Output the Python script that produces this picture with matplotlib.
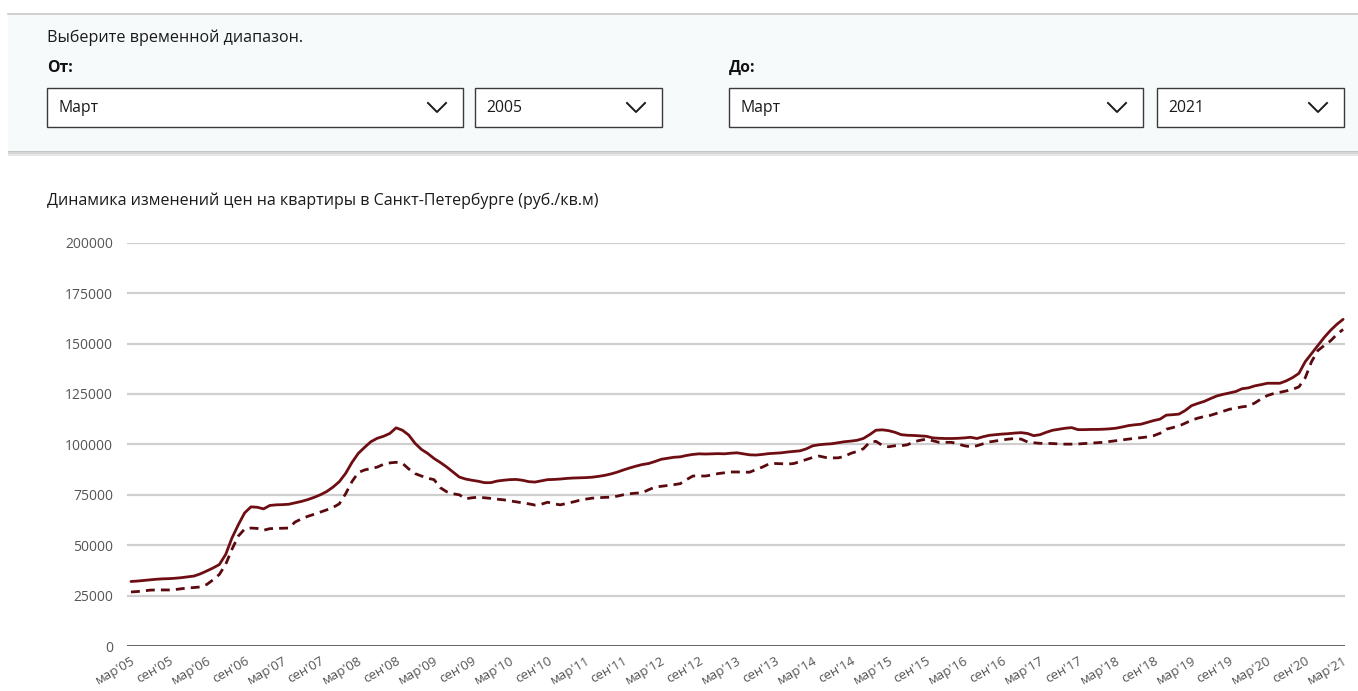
import numpy as np
import matplotlib
matplotlib.use('Agg')
from matplotlib import pyplot as plt
from matplotlib.patches import Rectangle

plt.rcParams['font.family'] = ['Open Sans', 'Noto Sans', 'DejaVu Sans']

# monthly prices, руб./кв.м, from March 2005 to March 2021
avg_price = [
    # 2005 (мар-дек)
    32000, 32200, 32500, 32800, 33100, 33300, 33400, 33600, 33900, 34300,
    # 2006
    34700, 35800, 37200, 38700, 40400, 45400, 53600, 60100, 66000, 69000, 68800, 68000,
    # 2007
    69700, 70000, 70100, 70300, 71000, 71700, 72600, 73700, 75000, 76600, 78800, 81500,
    # 2008
    85600, 91000, 95500, 98500, 101300, 103000, 104000, 105400, 108200, 107000, 104600, 100500,
    # 2009
    97500, 95500, 93000, 91000, 88800, 86300, 83800, 82800, 82200, 81700, 81000, 81000,
    # 2010
    81800, 82200, 82500, 82600, 82200, 81500, 81300, 81900, 82500, 82600, 82800, 83100,
    # 2011
    83300, 83400, 83500, 83700, 84100, 84600, 85300, 86200, 87300, 88300, 89200, 90000,
    # 2012
    90500, 91500, 92600, 93100, 93600, 93800, 94500, 95000, 95300, 95200, 95300, 95400,
    # 2013
    95300, 95600, 95800, 95300, 94800, 94700, 95000, 95400, 95600, 95800, 96200, 96500,
    # 2014
    96800, 97800, 99300, 99800, 100100, 100300, 100800, 101300, 101600, 102000, 102900, 104800,
    # 2015
    107000, 107200, 106800, 106000, 104800, 104500, 104400, 104200, 104000, 103200, 103000, 102900,
    # 2016
    102900, 103000, 103200, 103500, 102900, 103800, 104500, 104800, 105100, 105300, 105600, 105800,
    # 2017
    105400, 104300, 104800, 106000, 107000, 107500, 108000, 108300, 107300, 107300, 107400, 107400,
    # 2018
    107500, 107700, 108000, 108600, 109300, 109700, 110000, 110900, 111800, 112500, 114500, 114700,
    # 2019
    115000, 116800, 119200, 120300, 121300, 122700, 124000, 124800, 125500, 126200, 127600, 128000,
    # 2020
    129000, 129600, 130300, 130300, 130300, 131500, 133100, 135200, 141000, 145000, 149000, 153000,
    # 2021 (янв-мар)
    156500, 159500, 162000,
]

min_price = [
    # 2005 (мар-дек)
    26800, 27000, 27300, 27700, 27800, 27800, 27800, 28000, 28400, 28800,
    # 2006
    29000, 29300, 30500, 32800, 35500, 40500, 48000, 54500, 58000, 58500, 58300, 57400,
    # 2007
    58200, 58300, 58400, 58500, 61500, 63000, 64300, 65300, 66400, 67500, 68700, 70500,
    # 2008
    75500, 81500, 86000, 87300, 88000, 88700, 90100, 90800, 91100, 90600, 87800, 85500,
    # 2009
    84300, 83200, 82500, 78500, 76500, 75500, 75000, 73000, 73500, 73800, 73500, 73200,
    # 2010
    72800, 72500, 72000, 71500, 71000, 70500, 69900, 70300, 71300, 70500, 70000, 70700,
    # 2011
    71400, 72200, 72800, 73300, 73500, 73700, 73800, 74300, 75000, 75500, 75800, 76000,
    # 2012
    77500, 78800, 79200, 79600, 80000, 80500, 82500, 84300, 84300, 84300, 84800, 85500,
    # 2013
    85900, 86300, 86300, 86200, 86200, 87500, 88700, 90200, 90500, 90400, 90200, 90500,
    # 2014
    91500, 92500, 93500, 94200, 93500, 93300, 93300, 94000, 95500, 96500, 97800, 101000,
    # 2015
    101500, 99500, 98800, 99300, 99300, 99800, 101300, 102000, 102600, 101800, 101000, 101000,
    # 2016
    101000, 100200, 99300, 98800, 99300, 100300, 101200, 101700, 102200, 102600, 102900, 102600,
    # 2017
    101200, 100800, 100500, 100500, 100400, 100200, 100100, 100100, 100200, 100400, 100600, 100800,
    # 2018
    101000, 101400, 101800, 102200, 102600, 103000, 103300, 103700, 104300, 105500, 107500, 108300,
    # 2019
    109100, 110500, 112000, 113000, 113800, 114400, 115400, 116400, 117400, 118000, 118600, 119000,
    # 2020
    120500, 122500, 124200, 125200, 125800, 126500, 127300, 128500, 133000, 141000, 146500, 149000,
    # 2021 (янв-мар)
    151300, 154500, 157000,
]

tick_labels = []
for yr in range(5, 22):
    tick_labels.append("мар'{:02d}".format(yr))
    if yr < 21:
        tick_labels.append("сен'{:02d}".format(yr))

y_ticks = [0, 25000, 50000, 75000, 100000, 125000, 150000, 175000, 200000]

W, H = 1358, 691
fig = plt.figure(figsize=(W / 100, H / 100), dpi=100)
fig.patch.set_facecolor('white')

# the date-range selector above the chart, laid out in pixels
ui = fig.add_axes([0, 0, 1, 1], zorder=0)
ui.set_xlim(0, W)
ui.set_ylim(H, 0)
ui.axis('off')

for k, c in enumerate(['#e6e6e6', '#d6d6d6', '#c4c4c4']):
    ui.add_patch(Rectangle((8, 150 + 2 - k), W, 4 - k, facecolor=c, edgecolor='none'))
ui.add_patch(Rectangle((8, 14), W, 137, facecolor='#f6fafb', edgecolor='none'))
ui.plot([8, W], [14, 14], color='#c8c8c8', lw=1.2)

ui.text(47, 38, 'Выберите временной диапазон.', fontsize=11.6, color='#1a1a1a', va='center')
ui.text(47, 68, 'От:', fontsize=11.3, fontweight='bold', color='#111111', va='center')
ui.text(729, 68, 'До:', fontsize=11.3, fontweight='bold', color='#111111', va='center')

boxes = [(47, 463, 'Март'), (475, 662, '2005'), (729, 1143, 'Март'), (1157, 1344, '2021')]
for x0, x1, label in boxes:
    ui.add_patch(Rectangle((x0, 88), x1 - x0, 39, facecolor='white',
                           edgecolor='#3a3a3a', lw=1.0))
    ui.text(x0 + 11, 108, label, fontsize=11.3, color='#1a1a1a', va='center')
    cx = x1 - 26
    ui.plot([cx - 9, cx, cx + 9], [103, 112, 103], color='#1a1a1a', lw=1.4)

ui.text(47, 201, 'Динамика изменений цен на квартиры в Санкт-Петербурге (руб./кв.м)',
        fontsize=11.5, color='#1a1a1a', va='center')

# price chart
x0, x1, y0, y1 = 127, 1345, 242.7, 646
ax = fig.add_axes([x0 / W, 1 - y1 / H, (x1 - x0) / W, (y1 - y0) / H], zorder=1)
ax.patch.set_alpha(0)

months = np.arange(len(avg_price))
ax.plot(months, avg_price, color='#6e0d12', lw=2.0, solid_capstyle='round', zorder=3)
ax.plot(months, min_price, color='#5a0a0e', lw=2.0, dashes=(3.2, 2.2), zorder=3)

ax.set_xlim(-0.63, 192.3)
ax.set_ylim(0, 200000)

ax.set_yticks(y_ticks)
ax.set_yticklabels([str(v) for v in y_ticks], fontsize=10, color='#555555')
ax.set_xticks(np.arange(0, 193, 6))
ax.set_xticklabels(tick_labels, rotation=30, ha='right', rotation_mode='anchor',
                   fontsize=9.5, color='#555555')
ax.tick_params(axis='both', length=0)
ax.tick_params(axis='y', pad=10)
ax.tick_params(axis='x', pad=6)

for v in y_ticks[1:]:
    ax.axhline(v, color='#cfcfcf', lw=1.6, zorder=1)
ax.axhline(0, color='#555555', lw=2.0, zorder=2)

for s in ax.spines.values():
    s.set_visible(False)

fig.savefig('out.png', dpi=100)
